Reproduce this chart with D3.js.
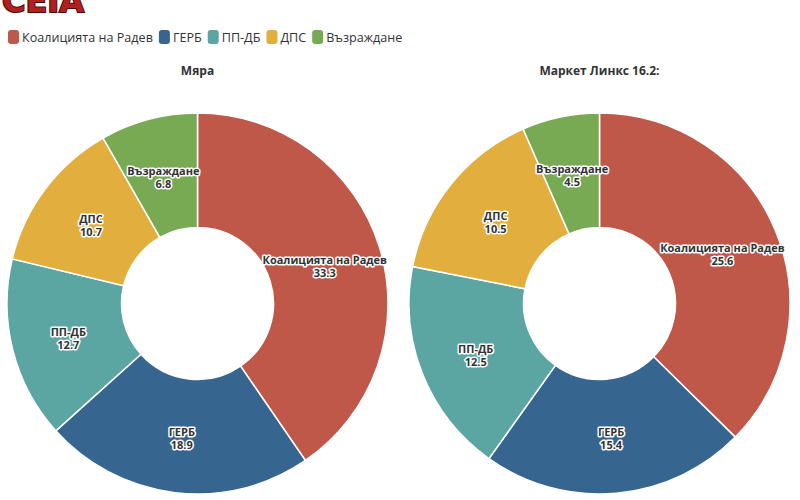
<!DOCTYPE html>
<html>
<head>
<meta charset="utf-8">
<script src="https://cdn.jsdelivr.net/npm/d3@7"></script>
<style>
  body { margin: 0; background: #fff; }
  svg { font-family: "Open Sans", "Noto Sans", sans-serif; }
</style>
</head>
<body>
<div id="chart"></div>
<script>
// Parties (same order in both pies)
const parties = ["Коалицията на Радев", "ГЕРБ", "ПП-ДБ", "ДПС", "Възраждане"];
const colors = ["#c0584a", "#36658f", "#5ba6a2", "#e2ae3d", "#78aa54"];

// Pie titles and values
const titles = ["Мяра", "Маркет Линкс 16.2:"];
const myaraValues = [33.3, 18.9, 12.7, 10.7, 6.8];
const marketLinksValues = [25.6, 15.4, 12.5, 10.5, 4.5];

function draw(container) {
  const width = 800;
  const height = 500;

  const svg = d3.select(container).append("svg")
    .attr("width", width)
    .attr("height", height);

  // Logo, cut off at the top of the frame (shadow drawn as a dark stroke behind)
  svg.append("text")
    .attr("x", 2)
    .attr("y", 12)
    .attr("font-family", "DejaVu Sans, sans-serif")
    .attr("font-weight", "bold")
    .attr("font-size", 32)
    .attr("fill", "#b0201f")
    .style("paint-order", "stroke")
    .attr("stroke", "#4a0a0a")
    .attr("stroke-width", 2)
    .text("CEIA");

  /* **************************************
   * Legend
   **************************************** */
  const legend = svg.append("g").attr("transform", "translate(8,37)");
  let lx = 0;
  parties.forEach((p, i) => {
    const item = legend.append("g").attr("transform", `translate(${lx},0)`);
    item.append("rect")
      .attr("x", 0).attr("y", -7)
      .attr("width", 11).attr("height", 14)
      .attr("rx", 3)
      .attr("fill", colors[i]);
    const t = item.append("text")
      .attr("x", 14)
      .attr("y", 5)
      .attr("font-size", 12.6)
      .attr("fill", "#333")
      .text(p);
    lx += 14 + t.node().getComputedTextLength() + 6;
  });

  /* **************************************
   * Pies
   **************************************** */
  const outerR = 190.5;
  const innerR = 76;
  const centers = d3.scalePoint()
    .domain(titles)
    .range([197.5, 599.5]);
  const cy = 303.5;

  const pie = d3.pie().sort(null).value(d => d.value);
  const arc = d3.arc().innerRadius(innerR).outerRadius(outerR);

  [myaraValues, marketLinksValues].forEach((vals, k) => {
    const data = parties.map((p, i) => ({ name: p, value: vals[i], color: colors[i] }));
    const cx = centers(titles[k]);

    svg.append("text")
      .attr("x", cx)
      .attr("y", 75)
      .attr("text-anchor", "middle")
      .attr("font-size", 12)
      .attr("font-weight", "bold")
      .attr("fill", "#333")
      .text(titles[k]);

    const g = svg.append("g").attr("transform", `translate(${cx},${cy})`);

    g.selectAll("path")
      .data(pie(data))
      .join("path")
        .attr("d", arc)
        .attr("fill", d => d.data.color)
        .attr("stroke", "#fff")
        .attr("stroke-width", 1.5);

    // labels with a white halo
    const t = g.selectAll("text.lbl")
      .data(pie(data))
      .join("text")
        .attr("class", "lbl")
        .attr("transform", d => `translate(${arc.centroid(d)})`)
        .attr("text-anchor", "middle")
        .attr("font-size", 11)
        .attr("font-weight", "bold")
        .attr("fill", "#333")
        .attr("stroke", "#fff")
        .attr("stroke-width", 3)
        .attr("stroke-linejoin", "round")
        .style("paint-order", "stroke");
    t.append("tspan").attr("x", 0).attr("y", 0).text(d => d.data.name);
    t.append("tspan").attr("x", 0).attr("y", 13).text(d => d.data.value.toFixed(1));
  });

  return svg.node();
}

draw("#chart");
</script>
</body>
</html>
